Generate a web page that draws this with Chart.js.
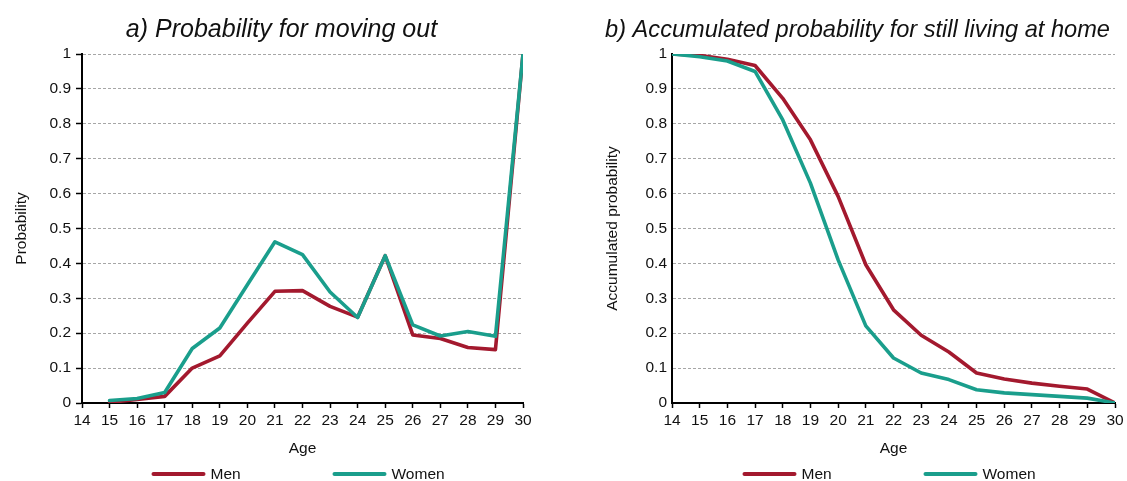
<!DOCTYPE html>
<html>
<head>
<meta charset="utf-8">
<title>Moving out of the parental home</title>
<script src="https://cdn.jsdelivr.net/npm/chart.js@4.4.1/dist/chart.umd.min.js"></script>
<style>
  html, body { margin: 0; padding: 0; background: #ffffff; }
  #wrap { position: relative; width: 1127px; height: 481px; overflow: hidden; }
  .panel { position: absolute; top: 0; height: 481px; }
  #panelA { left: 0; width: 563px; }
  #panelB { left: 563px; width: 564px; }
</style>
</head>
<body>
<div id="wrap">
  <div class="panel" id="panelA"><canvas id="chartA"></canvas></div>
  <div class="panel" id="panelB"><canvas id="chartB"></canvas></div>
</div>
<script>
// Age axis ticks shared by both panels
const ageTicks = [14, 15, 16, 17, 18, 19, 20, 21, 22, 23, 24, 25, 26, 27, 28, 29, 30];
const probabilityTicks = [0, 0.1, 0.2, 0.3, 0.4, 0.5, 0.6, 0.7, 0.8, 0.9, 1];

// a) Probability for moving out, by age
const agesMovingOut = [15, 16, 17, 18, 19, 20, 21, 22, 23, 24, 25, 26, 27, 28, 29, 30];
const menMovingOut   = [0.002, 0.010, 0.019, 0.100, 0.135, 0.229, 0.320, 0.322, 0.277, 0.246, 0.422, 0.195, 0.185, 0.159, 0.153, 1.0];
const womenMovingOut = [0.007, 0.013, 0.030, 0.156, 0.215, 0.339, 0.462, 0.425, 0.318, 0.245, 0.422, 0.224, 0.192, 0.205, 0.191, 1.0];

// b) Accumulated probability for still living at home, by age
const agesAtHome = [14, 15, 16, 17, 18, 19, 20, 21, 22, 23, 24, 25, 26, 27, 28, 29, 30];
const menAtHome   = [1.0, 0.996, 0.985, 0.967, 0.873, 0.754, 0.592, 0.396, 0.267, 0.194, 0.146, 0.086, 0.069, 0.057, 0.048, 0.040, 0];
const womenAtHome = [1.0, 0.992, 0.980, 0.950, 0.811, 0.630, 0.410, 0.221, 0.129, 0.086, 0.067, 0.038, 0.029, 0.024, 0.019, 0.014, 0];

const seriesNames = ['Men', 'Women'];
const MEN_COLOR = '#A3192E';
const WOMEN_COLOR = '#1A9E8C';
const FONT = "'Liberation Sans', Arial, Helvetica, sans-serif";
const TEXT = '#111111';

const toPoints = (xs, ys) => xs.map((x, i) => ({ x: x, y: ys[i] }));

// Italic panel heading drawn above the plot
const panelTitle = {
  id: 'panelTitle',
  afterDraw(chart, args, opts) {
    const ctx = chart.ctx;
    ctx.save();
    ctx.font = 'italic ' + opts.size + 'px ' + FONT;
    ctx.fillStyle = TEXT;
    ctx.textAlign = 'center';
    ctx.textBaseline = 'alphabetic';
    ctx.fillText(opts.text, opts.x, opts.y);
    ctx.restore();
  }
};

// Legend with long line swatches, centred under the plot area
const lineLegend = {
  id: 'lineLegend',
  afterDraw(chart, args, opts) {
    const ctx = chart.ctx;
    const ca = chart.chartArea;
    const start = (ca.left + ca.right) / 2 + opts.offset;
    chart.data.datasets.forEach((ds, i) => {
      const sx = start + i * opts.slot;
      ctx.save();
      ctx.strokeStyle = ds.borderColor;
      ctx.lineWidth = 4;
      ctx.lineCap = 'round';
      ctx.beginPath();
      ctx.moveTo(sx + 2, opts.y);
      ctx.lineTo(sx + opts.swatch - 2, opts.y);
      ctx.stroke();
      ctx.font = opts.size + 'px ' + FONT;
      ctx.fillStyle = TEXT;
      ctx.textAlign = 'left';
      ctx.textBaseline = 'middle';
      ctx.fillText(ds.label, sx + opts.swatch + 5, opts.y + 0.5);
      ctx.restore();
    });
  }
};

function makeChart(canvasId, cfg) {
  const datasets = [
    { label: seriesNames[0], data: toPoints(cfg.ages, cfg.men), borderColor: MEN_COLOR, backgroundColor: MEN_COLOR, order: 1 },
    { label: seriesNames[1], data: toPoints(cfg.ages, cfg.women), borderColor: WOMEN_COLOR, backgroundColor: WOMEN_COLOR, order: 0 }
  ].map(d => Object.assign(d, {
    borderWidth: 3.6,
    pointRadius: 0,
    pointHoverRadius: 0,
    tension: 0,
    borderJoinStyle: 'round',
    borderCapStyle: 'round',
    fill: false
  }));

  return new Chart(document.getElementById(canvasId), {
    type: 'line',
    data: { datasets: datasets },
    plugins: [panelTitle, lineLegend],
    options: {
      responsive: true,
      maintainAspectRatio: false,
      animation: false,
      events: [],
      layout: { padding: { left: 0, right: cfg.padRight, top: 54, bottom: 18 } },
      plugins: {
        legend: { display: false },
        title: { display: false },
        tooltip: { enabled: false },
        panelTitle: { text: cfg.title, x: cfg.titleX, y: 36.5, size: cfg.titleSize },
        lineLegend: { offset: -151, slot: 181, swatch: 54, y: 474, size: 15.5 }
      },
      scales: {
        x: {
          type: 'linear',
          min: ageTicks[0],
          max: ageTicks[ageTicks.length - 1],
          afterBuildTicks: s => { s.ticks = ageTicks.map(v => ({ value: v })); },
          afterFit: s => { s.height = 60; },
          grid: {
            drawOnChartArea: false,
            drawTicks: true,
            tickLength: 5,
            tickColor: '#000000',
            tickWidth: 1.5,
            color: 'rgba(0,0,0,0)'
          },
          border: { display: true, color: '#000000', width: 2 },
          ticks: {
            color: TEXT,
            font: { family: FONT, size: 15.5 },
            padding: 3,
            maxRotation: 0,
            autoSkip: false,
            callback: v => String(v)
          },
          title: {
            display: true,
            text: 'Age',
            color: TEXT,
            font: { family: FONT, size: 15.5 },
            padding: { top: 0, bottom: 4.5 }
          }
        },
        y: {
          type: 'linear',
          min: probabilityTicks[0],
          max: probabilityTicks[probabilityTicks.length - 1],
          afterBuildTicks: s => { s.ticks = probabilityTicks.map(v => ({ value: v })); },
          afterFit: s => { s.width = cfg.yAxisWidth; },
          grid: {
            color: '#a6a6a6',
            lineWidth: 1,
            drawTicks: cfg.yTicks,
            tickLength: 6,
            tickColor: '#000000',
            tickWidth: 1.5
          },
          border: { display: true, color: '#000000', width: 2, dash: [3, 2] },
          ticks: {
            color: TEXT,
            font: { family: FONT, size: 15.5 },
            padding: 5,
            callback: v => String(Math.round(v * 10) / 10)
          },
          title: {
            display: true,
            text: cfg.yTitle,
            color: TEXT,
            font: { family: FONT, size: 15.5 },
            padding: { top: cfg.yTitlePad, bottom: 0 }
          }
        }
      }
    }
  });
}

makeChart('chartA', {
  ages: agesMovingOut, men: menMovingOut, women: womenMovingOut,
  title: 'a) Probability for moving out', titleX: 281.5, titleSize: 25,
  yTitle: 'Probability', yTitlePad: 12.5,
  yAxisWidth: 82, yTicks: true, padRight: 40
});

makeChart('chartB', {
  ages: agesAtHome, men: menAtHome, women: womenAtHome,
  title: 'b) Accumulated probability for still living at home', titleX: 294.5, titleSize: 23.6,
  yTitle: 'Accumulated probability', yTitlePad: 40.5,
  yAxisWidth: 109, yTicks: false, padRight: 12
});
</script>
</body>
</html>
